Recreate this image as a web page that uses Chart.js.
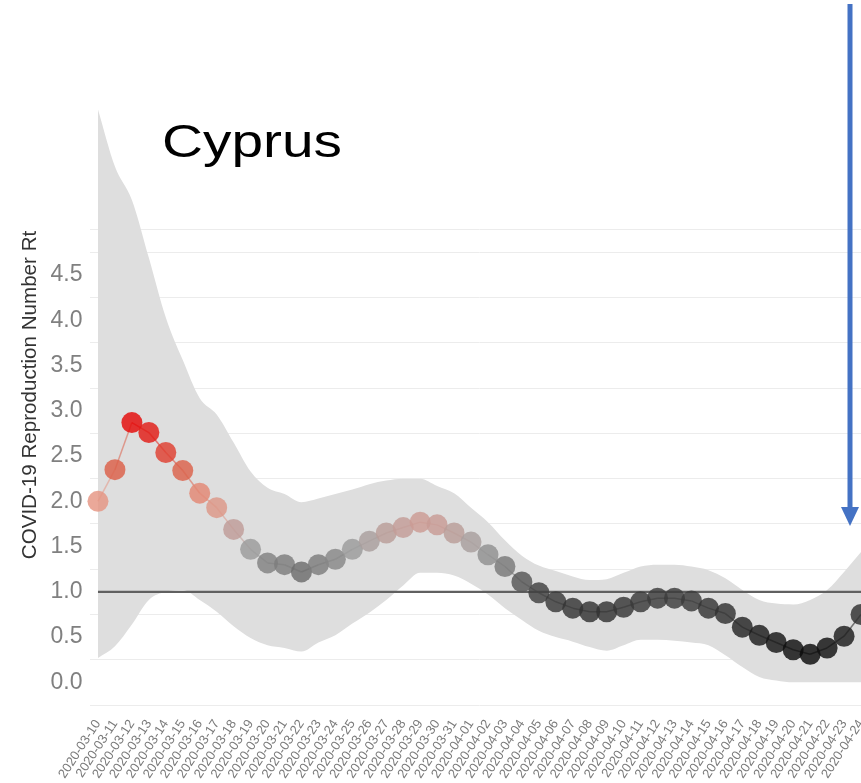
<!DOCTYPE html>
<html><head><meta charset="utf-8">
<script src="https://cdn.jsdelivr.net/npm/chart.js@4.4.1/dist/chart.umd.min.js"></script>
<style>
html,body{margin:0;padding:0;overflow:hidden;background:#fff;width:861px;height:783px}
canvas{display:block}
</style></head>
<body>
<canvas id="c" width="880" height="783" style="width:880px;height:783px"></canvas>
<script>
const titleText = 'Cyprus';
const yAxisTitle = 'COVID-19 Reproduction Number Rt';

const dates = [
  '2020-03-10','2020-03-11','2020-03-12','2020-03-13','2020-03-14','2020-03-15','2020-03-16','2020-03-17',
  '2020-03-18','2020-03-19','2020-03-20','2020-03-21','2020-03-22','2020-03-23','2020-03-24','2020-03-25',
  '2020-03-26','2020-03-27','2020-03-28','2020-03-29','2020-03-30','2020-03-31','2020-04-01','2020-04-02',
  '2020-04-03','2020-04-04','2020-04-05','2020-04-06','2020-04-07','2020-04-08','2020-04-09','2020-04-10',
  '2020-04-11','2020-04-12','2020-04-13','2020-04-14','2020-04-15','2020-04-16','2020-04-17','2020-04-18',
  '2020-04-19','2020-04-20','2020-04-21','2020-04-22','2020-04-23','2020-04-24'
];

const rt = [2.00, 2.35, 2.87, 2.76, 2.54, 2.34, 2.09, 1.93, 1.69, 1.47,
            1.32, 1.30, 1.22, 1.30, 1.36, 1.47, 1.56, 1.65, 1.71, 1.77,
            1.74, 1.65, 1.55, 1.41, 1.28, 1.11, 0.99, 0.89, 0.82, 0.78,
            0.78, 0.83, 0.89, 0.93, 0.93, 0.90, 0.82, 0.76, 0.61, 0.52,
            0.44, 0.36, 0.31, 0.38, 0.51, 0.75];

const upper = [6.33, 5.70, 5.33, 4.69, 4.03, 3.56, 3.14, 2.96, 2.65, 2.33,
               2.15, 2.08, 1.99, 2.03, 2.08, 2.13, 2.19, 2.23, 2.25, 2.25,
               2.17, 2.09, 1.93, 1.77, 1.57, 1.40, 1.29, 1.23, 1.17, 1.13,
               1.14, 1.21, 1.28, 1.30, 1.30, 1.28, 1.24, 1.15, 1.02, 0.91,
               0.87, 0.86, 0.91, 1.02, 1.22, 1.44];

const lower = [0.27, 0.40, 0.64, 0.91, 1.00, 1.02, 0.91, 0.78, 0.62, 0.49,
               0.41, 0.38, 0.34, 0.44, 0.52, 0.65, 0.77, 0.91, 1.07, 1.21,
               1.21, 1.18, 1.09, 0.97, 0.82, 0.69, 0.57, 0.50, 0.45, 0.39,
               0.35, 0.41, 0.47, 0.47, 0.46, 0.44, 0.41, 0.30, 0.17, 0.06,
               0.02, 0.00, 0.00, 0.00, 0.00, 0.00];

const thresholdValue = 1.0;

const yTickValues = [0, 0.5, 1, 1.5, 2, 2.5, 3, 3.5, 4, 4.5];
const yTickLabels = ['0.0','0.5','1.0','1.5','2.0','2.5','3.0','3.5','4.0','4.5'];
const yGridValues = [-0.25, 0.25, 0.75, 1.25, 1.75, 2.25, 2.75, 3.25, 3.75, 4.25, 4.75, 5.0];

// colour scale (value -> rgb), styling only
const colorStops = [
  [0.3, [10,10,10]], [0.8, [52,52,52]], [1.0, [64,64,64]], [1.3, [125,125,125]],
  [1.5, [160,160,160]], [1.75, [202,155,149]], [2.0, [229,149,131]],
  [2.35, [220,95,72]], [2.9, [228,5,5]]
];
function rgbFor(v) {
  if (v <= colorStops[0][0]) return colorStops[0][1];
  for (let i = 1; i < colorStops.length; i++) {
    const [v1, c1] = colorStops[i];
    const [v0, c0] = colorStops[i-1];
    if (v <= v1) {
      const t = (v - v0) / (v1 - v0);
      return c0.map((c, k) => Math.round(c + t * (c1[k] - c)));
    }
  }
  return colorStops[colorStops.length-1][1];
}
function rgba(v, a) { const c = rgbFor(v); return `rgba(${c[0]},${c[1]},${c[2]},${a})`; }

Chart.defaults.font.family = '"Liberation Sans", Arial, Helvetica, sans-serif';

const overlay = {
  id: 'overlay',
  afterDraw(chart) {
    const ctx = chart.ctx;
    ctx.save();
    ctx.font = '46px "Liberation Sans", Arial, sans-serif';
    ctx.fillStyle = '#000';
    ctx.textBaseline = 'alphabetic';
    ctx.textAlign = 'left';
    const w = ctx.measureText(titleText).width;
    ctx.translate(162, 157);
    ctx.scale(180 / w, 1);
    ctx.fillText(titleText, 0, 0);
    ctx.restore();

    ctx.save();
    ctx.translate(30, 395);
    ctx.rotate(-Math.PI / 2);
    ctx.font = '20.6px "Liberation Sans", Arial, sans-serif';
    ctx.fillStyle = '#333';
    ctx.textAlign = 'center';
    ctx.textBaseline = 'middle';
    ctx.fillText(yAxisTitle, 0, 0);
    ctx.restore();

    ctx.save();
    ctx.strokeStyle = '#4472C4';
    ctx.fillStyle = '#4472C4';
    ctx.lineWidth = 5;
    ctx.beginPath(); ctx.moveTo(850, 4); ctx.lineTo(850, 510); ctx.stroke();
    ctx.beginPath(); ctx.moveTo(841, 507); ctx.lineTo(859, 507); ctx.lineTo(850, 526); ctx.closePath(); ctx.fill();
    ctx.restore();
  }
};

new Chart(document.getElementById('c'), {
  type: 'line',
  data: {
    labels: dates,
    datasets: [
      {
        label: 'Rt',
        data: rt,
        order: 0,
        showLine: true,
        tension: 0,
        borderWidth: 1.5,
        borderColor: 'rgba(200,120,110,0.6)',
        segment: { borderColor: c => rgba(c.p0.parsed.y, 0.55) },
        pointRadius: 10.5,
        pointHoverRadius: 10.5,
        pointBorderWidth: 0,
        pointBackgroundColor: rt.map(v => rgba(v, 0.82)),
        fill: false
      },
      {
        label: 'threshold',
        data: dates.map(() => thresholdValue),
        order: 1,
        borderColor: '#606060',
        borderWidth: 2.2,
        pointRadius: 0,
        fill: false
      },
      {
        label: 'upper',
        data: upper,
        order: 2,
        borderWidth: 0,
        borderColor: 'rgba(0,0,0,0)',
        pointRadius: 0,
        cubicInterpolationMode: 'monotone',
        fill: '+1',
        backgroundColor: '#dedede'
      },
      {
        label: 'lower',
        data: lower,
        order: 3,
        borderWidth: 0,
        borderColor: 'rgba(0,0,0,0)',
        pointRadius: 0,
        cubicInterpolationMode: 'monotone',
        fill: false
      }
    ]
  },
  options: {
    responsive: false,
    animation: false,
    events: [],
    layout: { padding: { top: 94, right: 8.5, left: 0, bottom: 0 } },
    plugins: { legend: { display: false }, tooltip: { enabled: false }, title: { display: false } },
    scales: {
      x: {
        type: 'category',
        offset: true,
        grid: { display: false, drawTicks: false },
        border: { display: false },
        ticks: {
          autoSkip: false,
          maxRotation: 57,
          minRotation: 57,
          padding: 12,
          color: '#7a7a7a',
          font: { size: 13 }
        },
        afterFit: s => { s.height = 78; s.paddingRight = 0; s.paddingLeft = 0; }
      },
      y: {
        min: -0.25,
        max: 6.5,
        border: { display: false },
        grid: {
          drawTicks: false,
          lineWidth: 1,
          color: c => (c.tick && yGridValues.includes(c.tick.value)) ? '#ececec' : 'rgba(0,0,0,0)'
        },
        afterBuildTicks: s => {
          const vals = [...new Set([...yGridValues, ...yTickValues])].sort((a, b) => a - b);
          s.ticks = vals.map(v => ({ value: v }));
        },
        ticks: {
          autoSkip: false,
          padding: 7,
          color: '#808080',
          font: { size: 23 },
          callback: v => { const i = yTickValues.indexOf(v); return i >= 0 ? yTickLabels[i] : ''; }
        },
        afterFit: s => { s.width = 89.5; s.paddingTop = 0; s.paddingBottom = 0; }
      }
    }
  },
  plugins: [overlay]
});
</script>
</body></html>
